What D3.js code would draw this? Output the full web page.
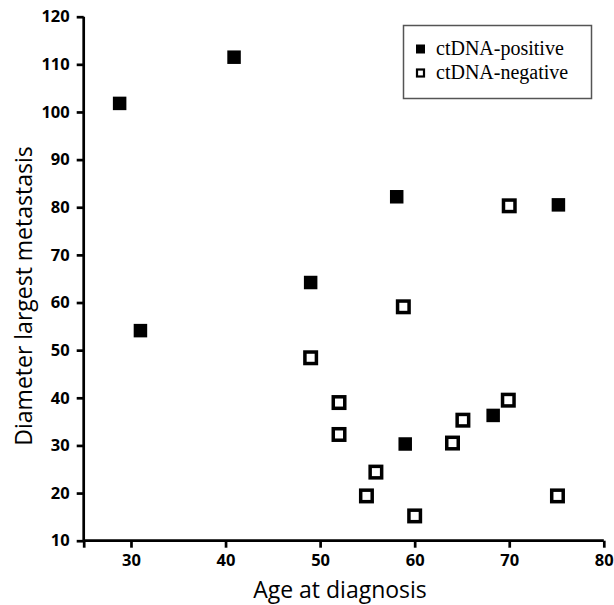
<!DOCTYPE html>
<html><head><meta charset="utf-8">
<script src="https://cdn.jsdelivr.net/npm/d3@7"></script>
<style>body{margin:0;background:#fff}svg{display:block}</style>
</head><body>
<script>
const posAge  = [28.8, 40.9, 31.0, 58.1, 49.0, 75.2, 59.0, 68.3];
const posDiam = [101.8, 111.5, 54.1, 82.2, 64.2, 80.5, 30.3, 36.3];
const negAge  = [70.0, 58.8, 49.0, 52.0, 52.0, 55.9, 54.9, 60.0, 64.0, 65.1, 69.9, 75.1];
const negDiam = [80.3, 59.1, 48.4, 39.0, 32.3, 24.4, 19.4, 15.2, 30.5, 35.3, 39.5, 19.4];
const xTicks = [30, 40, 50, 60, 70, 80];
const yTicks = [10, 20, 30, 40, 50, 60, 70, 80, 90, 100, 110, 120];
const legendLabels = ["ctDNA-positive", "ctDNA-negative"];

const W = 614, H = 605;
const svg = d3.select("body").append("svg").attr("width", W).attr("height", H);
const x = d3.scaleLinear().domain([25, 80]).range([83.7, 603.8]);
const y = d3.scaleLinear().domain([10, 120]).range([540.7, 16.7]);
const axisSans = "'Open Sans', 'DejaVu Sans', sans-serif";

// y axis
const gy = svg.append("g").attr("transform", `translate(${x(25)},0)`)
  .call(d3.axisLeft(y).tickValues(yTicks).tickSize(7).tickPadding(7));
// x axis
const gx = svg.append("g").attr("transform", `translate(0,${y(10)})`)
  .call(d3.axisBottom(x).tickValues([25].concat(xTicks)).tickFormat(d => d === 25 ? "" : d).tickSize(7).tickPadding(7));
[gx, gy].forEach(g => {
  g.select(".domain").attr("stroke", "#000").attr("stroke-width", 2.7);
  g.selectAll(".tick line").attr("stroke", "#000").attr("stroke-width", 2.7);
  g.selectAll(".tick text").attr("fill", "#000").style("font-family", axisSans)
    .style("font-weight", "bold").style("font-size", "16.5px");
});
gy.select(".domain").attr("d", `M0,${y(120)}V${y(10)}`);
gx.select(".domain").attr("d", `M${x(25)},0H${x(80)}`);

// axis titles
svg.append("text").attr("x", 340).attr("y", 598).attr("text-anchor", "middle")
  .style("font-family", axisSans).style("font-size", "23px").attr("fill", "#000")
  .text("Age at diagnosis");
svg.append("text").attr("transform", "translate(32,296) rotate(-90)").attr("text-anchor", "middle")
  .style("font-family", axisSans).style("font-size", "23px").attr("fill", "#000")
  .text("Diameter largest metastasis");

// points
const pos = posAge.map((a, i) => ({a, d: posDiam[i]}));
const neg = negAge.map((a, i) => ({a, d: negDiam[i]}));
const fs = 13.5, os = 11.5;
svg.append("g").selectAll("rect").data(pos).join("rect")
  .attr("x", d => x(d.a) - fs / 2).attr("y", d => y(d.d) - fs / 2)
  .attr("width", fs).attr("height", fs).attr("fill", "#000");
svg.append("g").selectAll("rect").data(neg).join("rect")
  .attr("x", d => x(d.a) - os / 2).attr("y", d => y(d.d) - os / 2)
  .attr("width", os).attr("height", os).attr("fill", "#fff")
  .attr("stroke", "#000").attr("stroke-width", 3.5);

// legend
const lg = svg.append("g");
lg.append("rect").attr("x", 403.5).attr("y", 25.5).attr("width", 188).attr("height", 73)
  .attr("fill", "#fff").attr("stroke", "#555").attr("stroke-width", 1.5);
legendLabels.forEach((t, i) => {
  const cy = 49 + i * 24;
  if (i === 0) {
    lg.append("rect").attr("x", 416).attr("y", cy - 4.5).attr("width", 9).attr("height", 9).attr("fill", "#000");
  } else {
    lg.append("rect").attr("x", 417).attr("y", cy - 3.5).attr("width", 7).attr("height", 7)
      .attr("fill", "#fff").attr("stroke", "#000").attr("stroke-width", 2.2);
  }
  lg.append("text").attr("x", 436).attr("y", cy + 6)
    .style("font-family", "'Liberation Serif', 'Times New Roman', serif").style("font-size", "20px")
    .attr("fill", "#000").text(t);
});
</script>
</body></html>
